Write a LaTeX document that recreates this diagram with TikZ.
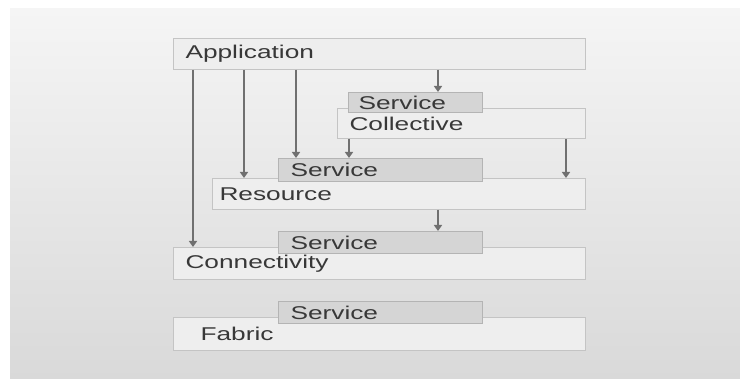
\documentclass[tikz,border=0pt]{standalone}
\usepackage{fontspec}
\setmainfont[FakeStretch=1.42]{Liberation Sans}
\usetikzlibrary{arrows.meta}

\definecolor{panelTop}{HTML}{F5F5F5}
\definecolor{panelBot}{HTML}{D9D9D9}
\definecolor{layerFill}{HTML}{EEEEEE}
\definecolor{layerLine}{HTML}{C4C4C4}
\definecolor{servFill}{HTML}{D5D5D5}
\definecolor{servLine}{HTML}{B4B4B4}
\definecolor{inkGray}{HTML}{383838}
\definecolor{arrGray}{HTML}{707070}

\tikzset{
  layer/.style={draw=layerLine, fill=layerFill, line width=1pt, anchor=north west,
    inner xsep=12pt, inner ysep=0pt, align=left, text=inkGray},
  service/.style={layer, draw=servLine, fill=servFill, text width=180pt,
    minimum height=22pt},
  arr/.style={draw=arrGray, line width=1.8pt, -{Triangle[width=8pt,length=6pt]}}
}

\begin{document}
\begin{tikzpicture}[x=1pt,y=-1pt,font=\fontsize{18.5}{20}\selectfont]
  % Hintergrund
  \useasboundingbox (0,0) rectangle (740,379);
  \fill[white] (0,0) rectangle (740,379);
  \shade[top color=panelTop, bottom color=panelBot] (10,9) rectangle (740,379);

  % Schichten
  \node[layer, text width=388pt, minimum height=31pt] (app) at (173,38) {Application};
  \node[layer, text width=224pt, minimum height=30pt] (coll) at (337,108) {Collective};
  \node[layer, text width=359pt, minimum height=31pt, inner xsep=7pt] (res) at (212,178) {Resource};
  \node[layer, text width=388pt, minimum height=32pt] (conn) at (173,247) {Connectivity};
  \node[layer, text width=388pt, minimum height=33pt] (fab) at (173,317) {\hspace*{15pt}Fabric};

  % Dienste
  \node[service, text width=114pt, minimum height=20pt, inner xsep=10pt] (collserv) at (348,92) {Service};
  \node[service, minimum height=23pt] (resserv) at (278,158) {Service};
  \node[service] (connserv) at (278,231) {Service};
  \node[service] (fabserv) at (278,301) {Service};

  % Pfeile
  \draw[arr] ([xshift=20pt]app.south west) -- ([xshift=20pt]app.south west |- conn.north);
  \draw[arr] ([xshift=71pt]app.south west) -- ([xshift=71pt]app.south west |- res.north);
  \draw[arr] ([xshift=123pt]app.south west) -- ([xshift=123pt]app.south west |- resserv.north);
  \draw[arr] ([xshift=265pt]app.south west) -- ([xshift=265pt]app.south west |- collserv.north);
  \draw[arr] ([xshift=12pt]coll.south west) -- ([xshift=12pt]coll.south west |- resserv.north);
  \draw[arr] ([xshift=-20pt]coll.south east) -- ([xshift=-20pt]coll.south east |- res.north);
  \draw[arr] ([xshift=226pt]res.south west) -- ([xshift=226pt]res.south west |- connserv.north);
\end{tikzpicture}
\end{document}
